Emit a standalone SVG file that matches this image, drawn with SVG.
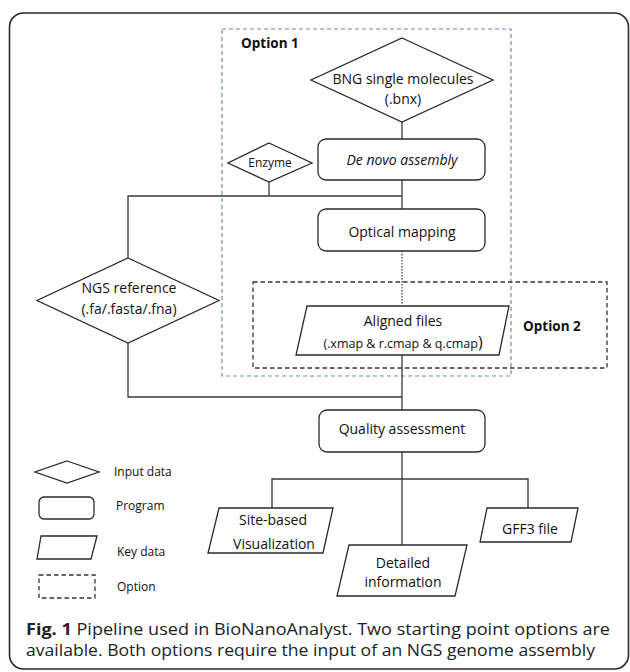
<svg xmlns="http://www.w3.org/2000/svg" width="630" height="672" viewBox="0 0 630 672">
<defs>
<style>
.frame{fill:#fff;stroke:#2a2a2a;stroke-width:1.6}
.node{fill:#fff;stroke:#2a2a2a;stroke-width:1.3}
.conn{fill:none;stroke:#3a3a3a;stroke-width:1.3}
.dot{fill:none;stroke:#3a3a3a;stroke-width:1.2;stroke-dasharray:1.5,1.5}
.opt1{fill:none;stroke:#6a8fb8;stroke-width:1.2;stroke-dasharray:4,3}
.opt2{fill:none;stroke:#333;stroke-width:1.3;stroke-dasharray:4.5,3}
text{font-family:"Open Sans","Noto Sans","Liberation Sans",sans-serif;fill:#111}
.t{font-size:14px;text-anchor:middle}
.s{font-size:12px}
.b{font-size:13.5px;font-weight:bold}
.cap{font-size:16.5px;fill:#222}
</style>
</defs>
<rect class="frame" x="9.5" y="13" width="619" height="656" rx="14"/>

<rect id="option1" class="opt1" x="222" y="29" width="289" height="347"/>
<text class="b" x="241" y="48">Option 1</text>
<rect id="option2" class="opt2" x="253" y="282" width="354" height="86"/>
<text class="b" x="523" y="331">Option 2</text>

<g id="connectors">
<line class="conn" x1="402" y1="122" x2="402" y2="139"/>
<line class="conn" x1="402" y1="180" x2="402" y2="209"/>
<line class="conn" x1="269" y1="182" x2="269" y2="196"/>
<polyline class="conn" points="402,196 128,196 128,258"/>
<line class="dot" x1="402" y1="251" x2="402" y2="306"/>
<line class="conn" x1="402" y1="355" x2="402" y2="410"/>
<polyline class="conn" points="128,343 128,397 402,397"/>
<line class="conn" x1="402" y1="452" x2="402" y2="545"/>
<polyline class="conn" points="272,508 272,479 528,479 528,508"/>
</g>

<g id="bng">
<polygon class="node" points="402,38 493,80 402,122 311,80"/>
<text class="t" x="403" y="84">BNG single molecules</text>
<text class="t" x="403" y="104">(.bnx)</text>
</g>
<g id="denovo">
<rect class="node" x="318" y="139" width="167" height="41" rx="8"/>
<text class="t" x="402" y="165" font-style="italic">De novo assembly</text>
</g>
<g id="enzyme">
<polygon class="node" points="269,143 312,163 269,182 228,163"/>
<text class="s" x="270" y="167" text-anchor="middle">Enzyme</text>
</g>
<g id="optical">
<rect class="node" x="318" y="209" width="167" height="42" rx="8"/>
<text class="t" x="402" y="237">Optical mapping</text>
</g>
<g id="ngs">
<polygon class="node" points="128,258 219,300.5 128,343 37,300.5"/>
<text class="t" x="129" y="293">NGS reference</text>
<text class="t" x="129" y="314">(.fa/.fasta/.fna)</text>
</g>
<g id="aligned">
<polygon class="node" points="307,306 509,306 499,355 296,355"/>
<text class="t" x="403" y="326">Aligned files</text>
<text x="403" y="348" text-anchor="middle" font-size="12.5">(.xmap &amp; r.cmap &amp; q.cmap<tspan font-size="16">)</tspan></text>
</g>
<g id="quality">
<rect class="node" x="319" y="410" width="166" height="42" rx="8"/>
<text class="t" x="402" y="434">Quality assessment</text>
</g>
<g id="sitebased">
<polygon class="node" points="219,508 333,508 323,553 208,553"/>
<text class="t" x="273" y="525">Site-based</text>
<text class="t" x="274" y="549">Visualization</text>
</g>
<g id="detailed">
<polygon class="node" points="349,545 467,545 455,596 337,596"/>
<text class="t" x="403" y="568">Detailed</text>
<text class="t" x="403" y="587">information</text>
</g>
<g id="gff3">
<polygon class="node" points="487,508 578,508 571,542 480,542"/>
<text class="t" x="530" y="534">GFF3 file</text>
</g>

<g id="legend">
<polygon class="node" points="67,461 99,472 67,483 35,472"/>
<text class="s" x="114" y="476">Input data</text>
<rect class="node" x="39" y="497" width="55" height="22" rx="5"/>
<text class="s" x="116" y="510">Program</text>
<polygon class="node" points="41,536 97,536 91,559 37,559"/>
<text class="s" x="117" y="556">Key data</text>
<rect class="opt2" x="39" y="575" width="56" height="23"/>
<text class="s" x="117" y="591">Option</text>
</g>

<text class="cap" x="26" y="635" textLength="584" lengthAdjust="spacingAndGlyphs"><tspan font-weight="bold">Fig. 1</tspan> Pipeline used in BioNanoAnalyst. Two starting point options are</text>
<text class="cap" x="26" y="656" textLength="569" lengthAdjust="spacingAndGlyphs">available. Both options require the input of an NGS genome assembly</text>
</svg>
